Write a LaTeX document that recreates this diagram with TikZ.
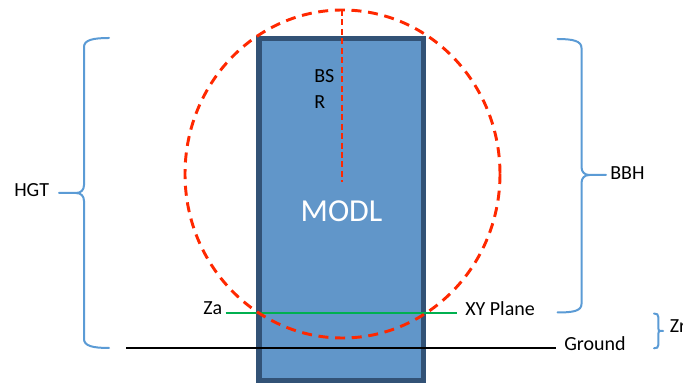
\documentclass[tikz,border=0pt]{standalone}
\usepackage{fontspec}
\setmainfont{Carlito}
\usetikzlibrary{positioning}
\definecolor{modlfill}{RGB}{97,150,201}
\definecolor{modlline}{RGB}{50,82,118}
\definecolor{bsred}{RGB}{255,40,0}
\definecolor{bracecol}{RGB}{91,155,213}
\definecolor{planegreen}{RGB}{0,176,80}
\tikzset{
    lbl/.style = {inner sep = 0, font = \fontsize{15}{19.5}\selectfont},
    bracket/.style = {bracecol, line width = 1.5pt, line cap = round},
    sphere/.style = {bsred, line width = 2.2pt, dash pattern = on 7.5pt off 5pt},
}

\begin{document}
\begin{tikzpicture}[x = 0.75pt, y = -0.75pt]
    \useasboundingbox (0,0) rectangle (683,384);

    % model box
    \node [draw = modlline, fill = modlfill, line width = 4.1pt, inner sep = 0,
           minimum width = 123.4pt, minimum height = 256.5pt] (modl) at (341.25,209.5) {};
    \node [lbl, anchor = base, text = white, font = \fontsize{24}{28}\selectfont] (modltxt) at (341.5,222) {MODL};

    % ground and xy plane
    \coordinate (gl) at (126,347.7);
    \coordinate (gr) at (556,347.7);
    \coordinate (pl) at (225.5,313.3);
    \coordinate (pr) at (457,313.3);
    \draw [line width = 1.5pt] (gl) -- (gr);
    \draw [planegreen, line width = 1.5pt] (pl) -- (pr);

    % bounding sphere
    \coordinate (bsc) at (342.5,174);
    \coordinate (bstop) at (341.5,10);
    \coordinate (bsend) at (341.5,182);
    \draw [sphere] (bsc) ellipse [x radius = 157.5, y radius = 164];
    \draw [bsred, line width = 1.5pt, dash pattern = on 4.5pt off 2.6pt] (bstop) -- (bsend);

    % braces
    \draw [bracket] (109,38) .. controls (93,38) and (84,40) .. (84,47) -- (84,185)
        .. controls (84,190) and (81,193) .. (76,193) -- (59,193)
        (76,193) .. controls (81,193) and (84,196) .. (84,201) -- (84,339)
        .. controls (84,346) and (93,348) .. (109,348);
    \draw [bracket] (557.5,39) .. controls (573,39) and (581.5,41) .. (581.5,48) -- (581.5,167)
        .. controls (581.5,172) and (584.5,175) .. (589.5,175) -- (606,175)
        (589.5,175) .. controls (584.5,175) and (581.5,178) .. (581.5,183) -- (581.5,304)
        .. controls (581.5,311) and (573,312.5) .. (557.5,312.5);
    \draw [bracket] (654,313.5) .. controls (657,313.5) and (658.3,314.5) .. (658.3,317) -- (658.3,328)
        .. controls (658.3,330) and (659,331) .. (660,331) -- (663,331)
        (660,331) .. controls (659,331) and (658.3,332) .. (658.3,334) -- (658.3,345)
        .. controls (658.3,347.5) and (657,348.3) .. (654,348.3);

    % labels
    \node [lbl, anchor = north west, align = left] (bsr) at (314,69) {BS\\R};
    \node [lbl, anchor = base west] (hgt) at (14,197) {HGT};
    \node [lbl, anchor = base west] (bbh) at (610,180) {BBH};
    \node [lbl, anchor = base west] (za) at (203,315) {Za};
    \node [lbl, anchor = base west] (xyp) at (465,316) {XY Plane};
    \node [lbl, anchor = base west] (grd) at (564,351) {Ground};
    \node [lbl, anchor = base west] (zr) at (669.5,333) {Zr};
\end{tikzpicture}
\end{document}
